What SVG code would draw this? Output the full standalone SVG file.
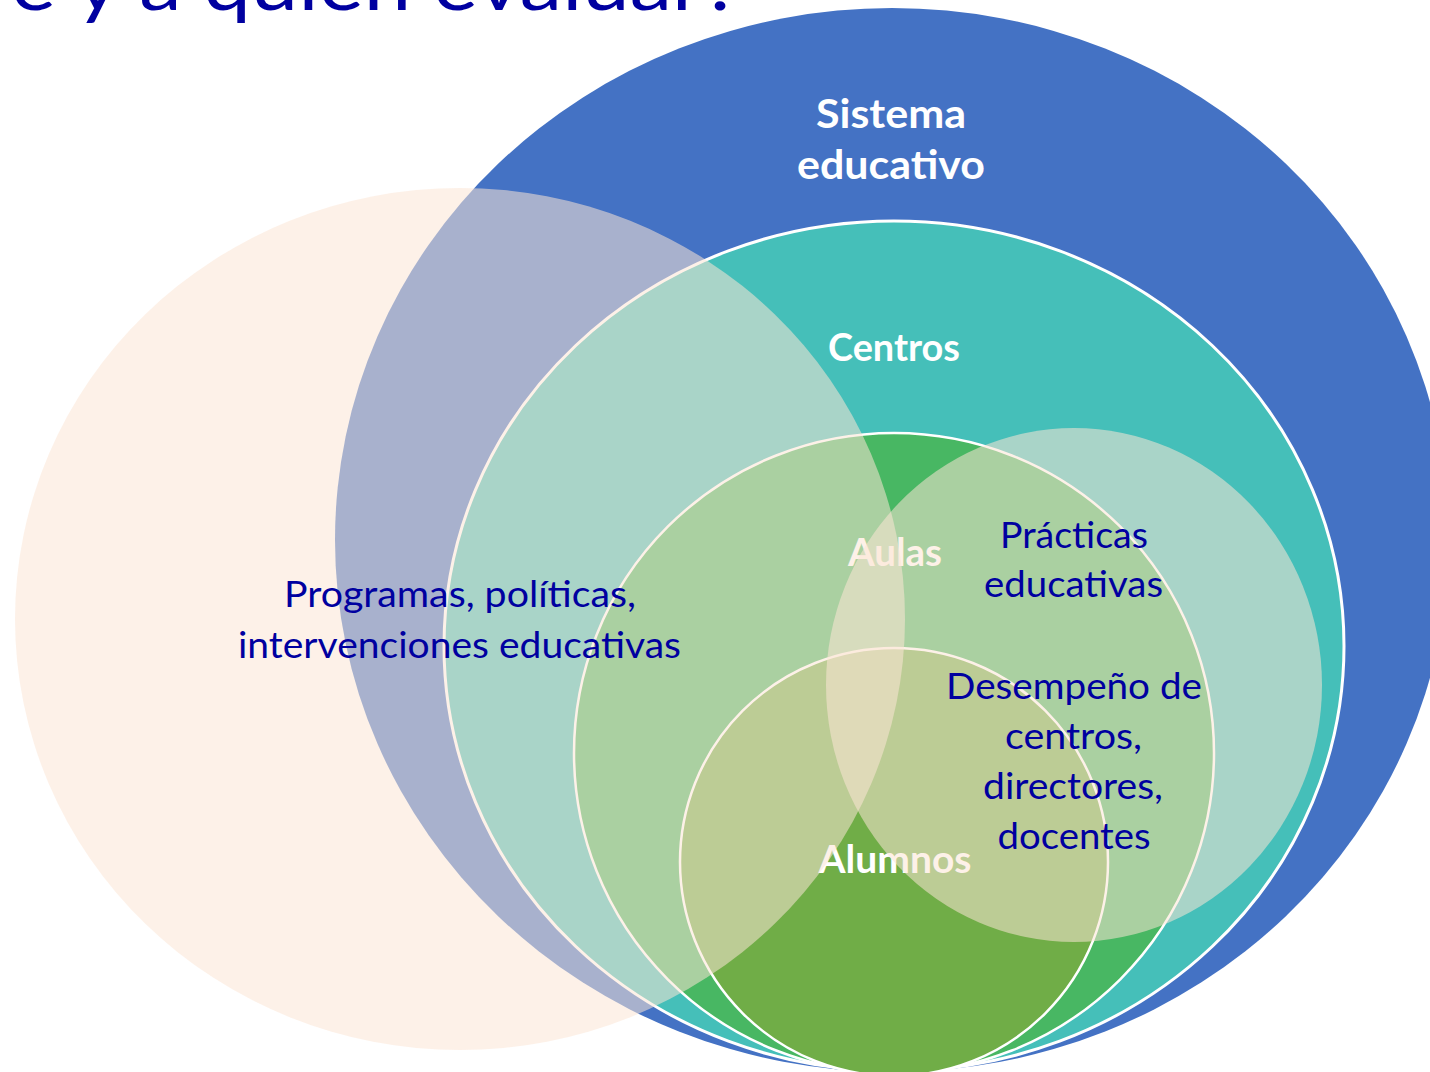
<svg xmlns="http://www.w3.org/2000/svg" width="1430" height="1072" viewBox="0 0 1430 1072">
  <style>
    .white-bold { font-family: Lato, "Liberation Sans", sans-serif; font-weight: 700; fill: #FFFFFF; text-anchor: middle; }
    .navy { font-family: Lato, "Liberation Sans", sans-serif; font-weight: 400; fill: #0000A0; text-anchor: middle; font-size: 37px; }
    .overlay { fill: #FBE5D6; fill-opacity: 0.55; }
    .ring { stroke: #FFFFFF; }
  </style>
  <rect x="0" y="0" width="1430" height="1072" fill="#FFFFFF"/>

  <g id="title">
    <text x="11" y="10" font-family="Lato, 'Liberation Sans', sans-serif" font-size="74" fill="#0000A0" textLength="730" lengthAdjust="spacingAndGlyphs">é y a quién evaluar?</text>
  </g>

  <g id="sistema">
    <ellipse cx="892" cy="540" rx="557" ry="532" fill="#4472C4"/>
    <text class="white-bold" x="891" y="128" font-size="41" textLength="150" lengthAdjust="spacingAndGlyphs">Sistema</text>
    <text class="white-bold" x="891" y="179" font-size="41" textLength="188" lengthAdjust="spacingAndGlyphs">educativo</text>
  </g>

  <g id="centros">
    <ellipse class="ring" cx="894" cy="646" rx="450" ry="425" fill="#45BFB9" stroke-width="3"/>
    <text class="white-bold" x="894" y="361" font-size="37.5" textLength="132" lengthAdjust="spacingAndGlyphs">Centros</text>
  </g>

  <g id="aulas">
    <circle class="ring" cx="894" cy="753" r="320" fill="#48B763" stroke-width="2.5"/>
    <text class="white-bold" x="895" y="566" font-size="37.5" textLength="94" lengthAdjust="spacingAndGlyphs">Aulas</text>
  </g>

  <g id="alumnos">
    <circle class="ring" cx="894" cy="862" r="214" fill="#70AD47" stroke-width="2.5"/>
    <text class="white-bold" x="895" y="873" font-size="37.5" textLength="153" lengthAdjust="spacingAndGlyphs">Alumnos</text>
  </g>

  <g id="programas">
    <ellipse class="overlay" cx="460" cy="619" rx="445" ry="431"/>
    <text class="navy" x="460" y="607" textLength="352" lengthAdjust="spacingAndGlyphs">Programas, políticas,</text>
    <text class="navy" x="459.5" y="658" textLength="443" lengthAdjust="spacingAndGlyphs">intervenciones educativas</text>
  </g>

  <g id="practicas">
    <ellipse class="overlay" cx="1074" cy="685" rx="248" ry="257"/>
    <text class="navy" x="1074" y="548" textLength="148" lengthAdjust="spacingAndGlyphs">Prácticas</text>
    <text class="navy" x="1073.5" y="597" textLength="179" lengthAdjust="spacingAndGlyphs">educativas</text>
  </g>

  <g id="desempeno">
    <text class="navy" x="1074" y="699" textLength="256" lengthAdjust="spacingAndGlyphs">Desempeño de</text>
    <text class="navy" x="1073.5" y="749" textLength="137" lengthAdjust="spacingAndGlyphs">centros,</text>
    <text class="navy" x="1073" y="799" textLength="180" lengthAdjust="spacingAndGlyphs">directores,</text>
    <text class="navy" x="1074" y="849" textLength="153" lengthAdjust="spacingAndGlyphs">docentes</text>
  </g>

  <g id="connectors"/>
</svg>
